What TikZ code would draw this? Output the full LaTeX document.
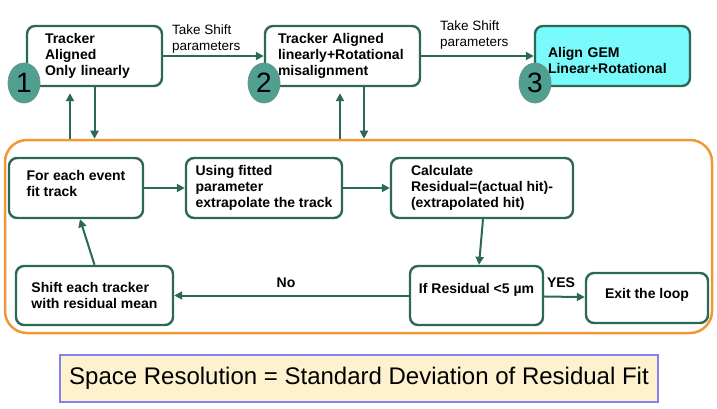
\documentclass[tikz,border=0pt]{standalone}
\usepackage{fontspec}
\setmainfont{Liberation Sans}
\usepackage{xcolor}
\definecolor{Col1}{RGB}{44,104,90}
\definecolor{Col2}{RGB}{240,152,52}
\definecolor{Col3}{RGB}{122,250,250}
\definecolor{Col4}{RGB}{80,160,146}
\definecolor{Col5}{RGB}{253,241,206}
\definecolor{Col6}{RGB}{130,130,238}
\usetikzlibrary{shapes}
\usetikzlibrary{arrows.meta}
\tikzstyle{Box}=[draw=Col1,line width=2.4pt,rounded corners=8pt,fill=white,
minimum height=60pt,inner sep=2pt,align=left,font=\fontsize{14}{16}\selectfont\bfseries]
\tikzstyle{Badge}=[ellipse,draw=Col1!70,fill=Col4,line width=0.8pt,minimum width=32pt,
minimum height=40pt,inner sep=0pt,font=\fontsize{28}{28}\selectfont]
\tikzstyle{Edge}=[draw=Col1,line width=2pt,-{Triangle[length=8pt,width=8pt]}]
\tikzstyle{NodeST}=[inner sep=0pt,align=left,font=\fontsize{13.5}{16}\selectfont]
\tikzstyle{Loop}=[draw=Col2,line width=2.5pt,rounded corners=22pt]

\begin{document}
\begin{tikzpicture}[x=1pt,y=-1pt]
        \useasboundingbox(0,0)rectangle(717,409);
        \node[Loop,minimum width=707pt,minimum height=193pt](l)at(358.5,236.5){};
        \node[Box,minimum width=135pt,text width=99pt](0)at(94.5,56){Tracker\\Aligned\\Only linearly};
        \node[Box,minimum width=155pt,text width=129pt](1)at(342.5,56){Tracker Aligned\\linearly+Rotational\\misalignment};
        \node[Box,fill=Col3,minimum width=155pt,text width=129pt,text depth=8pt](2)at(612.5,56){Align GEM\\Linear+Rotational};
        \node[Box,minimum width=134pt,text depth=10pt](3)at(76,188){For each event\\fit track};
        \node[Box,minimum width=156pt](4)at(264,188){Using fitted\\parameter\\extrapolate the track};
        \node[Box,minimum width=182pt](5)at(482,188){Calculate\\Residual=(actual hit)-\\(extrapolated hit)};
        \node[Box,minimum width=133pt,minimum height=59pt,text depth=15pt](6)at(476.5,295.5){If Residual <5 µm};
        \node[Box,minimum width=122pt,minimum height=50pt,align=center,text depth=9pt](7)at(647,298){Exit the loop};
        \node[Box,minimum width=157pt,minimum height=59pt](8)at(94.5,295.5){Shift each tracker\\with residual mean};
        \node[Badge](b1)at(24,83){1};
        \node[Badge](b2)at(264,83){2};
        \node[Badge](b3)at(535,83){3};
        \draw[Edge](0)--(1);
        \draw[Edge](1)--(2);
        \draw[Edge](0.south)--(0.south|-l.north);
        \draw[Edge]([xshift=-24.5pt]0.south|-l.north)--([xshift=-24.5pt,yshift=-6pt]0.south);
        \draw[Edge]([xshift=-2.5pt]1.south|-l.north)--([xshift=-2.5pt,yshift=-6pt]1.south);
        \draw[Edge]([xshift=21.5pt]1.south)--([xshift=21.5pt]1.south|-l.north);
        \draw[Edge](3)--(4);
        \draw[Edge](4)--(5);
        \draw[Edge]([xshift=1pt]5.south)--([xshift=2.5pt]6.north);
        \draw[Edge](6)--(7);
        \draw[Edge](6)--(8);
        \draw[Edge](8.north)--([xshift=4pt]3.south);
        \node[NodeST,anchor=west](s1)at(172,39.5){Take Shift\\parameters};
        \node[NodeST,anchor=west](s2)at(440,35){Take Shift\\parameters};
        \node[NodeST,font=\fontsize{14}{16}\selectfont\bfseries](no)at(286,283){No};
        \node[NodeST,font=\fontsize{14}{16}\selectfont\bfseries](yes)at(561,283){YES};
        \node[draw=Col6,fill=Col5,line width=1.2pt,minimum width=598pt,minimum height=47pt,
        font=\fontsize{24}{28}\selectfont](r)at(359,378.5){Space Resolution = Standard Deviation of Residual Fit};
    \end{tikzpicture}
\end{document}
